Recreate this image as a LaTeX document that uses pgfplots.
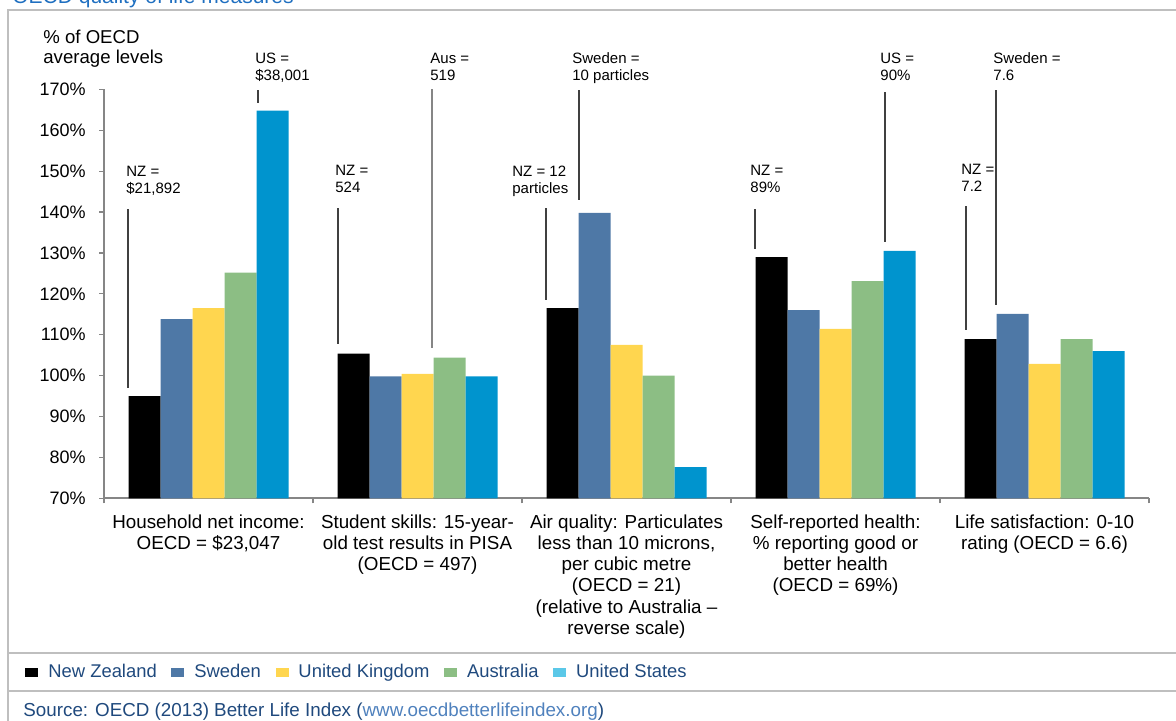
\documentclass[border=0pt]{standalone}
\usepackage{fontspec}
\setmainfont{Liberation Sans}
\usepackage{pgfplots}
\pgfplotsset{compat=1.18}
\definecolor{nz}{HTML}{000000}
\definecolor{se}{HTML}{4E78A6}
\definecolor{uk}{HTML}{FFD64F}
\definecolor{au}{HTML}{8CBE84}
\definecolor{us}{HTML}{0094CE}
\definecolor{usleg}{HTML}{5BC8E8}
\definecolor{darkblue}{HTML}{1F497D}
\definecolor{linkblue}{HTML}{4F81BD}
\definecolor{titleblue}{HTML}{1F6FC0}
\definecolor{framegray}{HTML}{BFBFBF}
\definecolor{axgray}{HTML}{868686}
\definecolor{anngray}{HTML}{404040}
\newcommand{\ann}[4]{%
  \node[anchor=base west,inner sep=0pt,font=\fontsize{7.5}{8.5}\selectfont] at (#1,#2) {#3};
  \node[anchor=base west,inner sep=0pt,font=\fontsize{7.5}{8.5}\selectfont] at (#1,#2+17) {#4};}
\newcommand{\legimg}[1]{\fill[#1] (0pt,-2.25pt) rectangle (6.5pt,2.25pt);}
\begin{document}
\begin{tikzpicture}
\begin{axis}[
  at={(52pt,-249.15pt)}, anchor=south west,
  scale only axis, width=522.5pt, height=204.5pt,
  xmin=-0.5, xmax=4.5, ymin=70, ymax=170,
  ybar=0pt, bar width=16pt,
  axis x line*=bottom, axis y line*=left,
  axis line style={draw=axgray, line width=0.9pt, -},
  tick align=outside, major tick length=2.5pt,
  tick style={draw=axgray, line width=0.6pt},
  ytick={70,80,...,170},
  yticklabel={\pgfmathprintnumber{\tick}\%},
  /pgf/number format/assume math mode=true,
  yticklabel style={inner sep=0pt, anchor=east, xshift=-6.5pt, font=\fontsize{9}{10}\selectfont},
  xtick={-0.5,0.5,1.5,2.5,3.5,4.5}, xticklabels={},
  extra x ticks={0,1,2,3,4},
  extra x tick style={major tick length=0pt},
  extra x tick labels={{Household net income:\\OECD = \$23,047},{Student skills: 15-year-\\old test results in PISA\\(OECD = 497)},{Air quality: Particulates\\less than 10 microns,\\per cubic metre\\(OECD = 21)\\(relative to Australia \textendash\\reverse scale)},{Self-reported health:\\\% reporting good or\\better health\\(OECD = 69\%)},{Life satisfaction: 0-10\\rating (OECD = 6.6)}},
  xticklabel style={align=center, inner sep=0pt, anchor=north, yshift=-8pt, font=\fontsize{9.4}{10.6}\selectfont},
  legend style={at={(-0.0756,-0.4247)}, anchor=west, draw=none, fill=none, inner sep=0pt,
    legend columns=-1, font=\fontsize{9.2}{10}\selectfont,
    nodes={inner sep=0pt, text=darkblue},
    /tikz/every odd column/.append style={column sep=5pt},
    /tikz/every even column/.append style={column sep=7.3pt}},
]
\addplot[fill=nz, draw=none, legend image code/.code={\legimg{nz}}] coordinates {(0,95) (1,105.4) (2,116.5) (3,129) (4,108.9)};
\addplot[fill=se, draw=none, legend image code/.code={\legimg{se}}] coordinates {(0,113.8) (1,99.8) (2,139.8) (3,116) (4,115.1)};
\addplot[fill=uk, draw=none, legend image code/.code={\legimg{uk}}] coordinates {(0,116.5) (1,100.4) (2,107.5) (3,111.4) (4,102.9)};
\addplot[fill=au, draw=none, legend image code/.code={\legimg{au}}] coordinates {(0,125.2) (1,104.4) (2,100) (3,123.1) (4,108.9)};
\addplot[fill=us, draw=none, legend image code/.code={\legimg{usleg}}] coordinates {(0,164.8) (1,99.8) (2,77.6) (3,130.5) (4,106)};
\legend{New Zealand, Sweden, United Kingdom, Australia, United States}
\end{axis}
\begin{scope}[x=0.5pt,y=-0.5pt]
 \draw[framegray, line width=0.75pt] (8,724) -- (8,10) -- (1180,10);
 \draw[framegray, line width=0.75pt] (8,653) -- (1180,653);
 \draw[framegray, line width=0.75pt] (8,691) -- (1180,691);
 \node[anchor=base west, inner sep=0pt, font=\fontsize{10.5}{12}\selectfont, text=titleblue] at (12,3) {OECD quality of life measures};
 \node[anchor=base west, inner sep=0pt, font=\fontsize{9.3}{10}\selectfont] at (43,43) {\% of OECD};
 \node[anchor=base west, inner sep=0pt, font=\fontsize{9.3}{10}\selectfont] at (43,63) {average levels};
 \node[anchor=base west, inner sep=0pt, font=\fontsize{9.4}{10}\selectfont, text=darkblue] at (23,716) {Source: OECD (2013) Better Life Index (\textcolor{linkblue}{www.oecdbetterlifeindex.org})};
 % annotations
 \begin{scope}[anngray, line width=1pt]
 \draw (128,209) -- (128,388);
 \draw (258,90) -- (258,103);
 \draw (338,208) -- (338,344);
 \draw[axgray, line width=0.8pt] (432,89) -- (432,348);
 \draw (546,208) -- (546,300);
 \draw (579,90) -- (579,200);
 \draw (755,209) -- (755,249);
 \draw (885,92) -- (885,242);
 \draw (966,206) -- (966,330);
 \draw (996,90) -- (996,305);
 \end{scope}
 \ann{126}{176.5}{NZ =}{\$21,892}
 \ann{255}{63.5}{US =}{\$38,001}
 \ann{335}{175}{NZ =}{524}
 \ann{430}{63.5}{Aus =}{519}
 \ann{512}{176.5}{NZ = 12}{particles}
 \ann{572}{63.5}{Sweden =}{10 particles}
 \ann{750}{175.5}{NZ =}{89\%}
 \ann{880}{63.5}{US =}{90\%}
 \ann{961}{174}{NZ =}{7.2}
 \ann{993}{63.5}{Sweden =}{7.6}
\end{scope}
\pgfresetboundingbox
\path[use as bounding box] (0pt,0pt) rectangle (588pt,-360pt);
\end{tikzpicture}
\end{document}
